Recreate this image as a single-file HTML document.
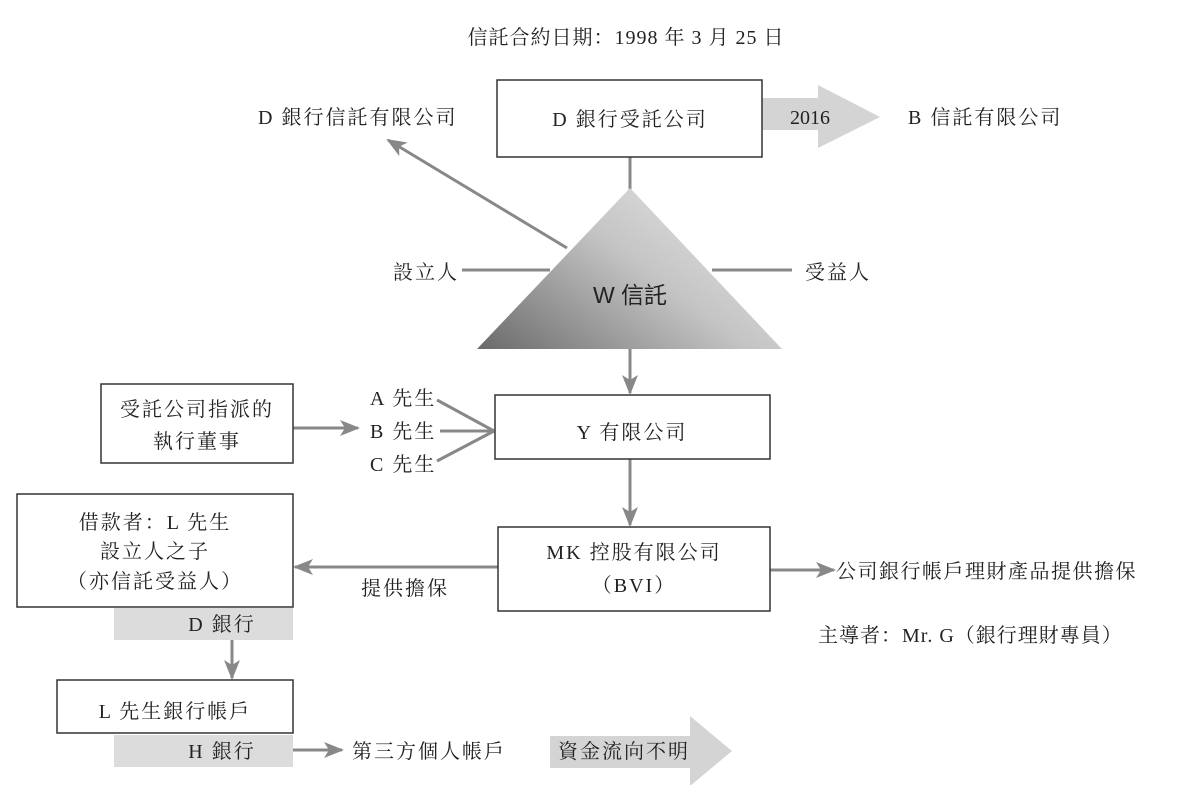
<!DOCTYPE html>
<html><head><meta charset="utf-8"><style>
body{margin:0;background:#fff}
svg text{font-family:"Liberation Serif","Noto Serif CJK SC",serif;font-size:20px;letter-spacing:2px;fill:#222}
</style></head><body>
<svg width="1178" height="785" xmlns="http://www.w3.org/2000/svg">
<defs>
<linearGradient id="g" x1="0" y1="1" x2="1" y2="0.3">
<stop offset="0" stop-color="#6a6a6a"/><stop offset="0.6" stop-color="#c4c4c4"/><stop offset="1" stop-color="#e2e2e2"/>
</linearGradient>
<marker id="b" markerWidth="20" markerHeight="16" refX="18" refY="8" orient="auto" markerUnits="userSpaceOnUse"><path d="M0,0 L20,8 L0,16 L5,8z" fill="#888"/></marker>
</defs>
<g stroke="#888" stroke-width="3" fill="none">
<line x1="630" y1="157" x2="630" y2="190"/>
<line x1="567" y1="248" x2="388" y2="140" marker-end="url(#b)"/>
<line x1="462" y1="270" x2="550" y2="270"/>
<line x1="712" y1="270" x2="792" y2="270"/>
<line x1="630" y1="349" x2="630" y2="393" marker-end="url(#b)"/>
<line x1="293" y1="428" x2="358" y2="428" marker-end="url(#b)"/>
<line x1="437" y1="400" x2="494" y2="431"/>
<line x1="440" y1="431" x2="494" y2="431"/>
<line x1="437" y1="461" x2="494" y2="431"/>
<line x1="630" y1="459" x2="630" y2="525" marker-end="url(#b)"/>
<line x1="498" y1="567" x2="295" y2="567" marker-end="url(#b)"/>
<line x1="770" y1="570" x2="834" y2="570" marker-end="url(#b)"/>
<line x1="232" y1="640" x2="232" y2="678" marker-end="url(#b)"/>
<line x1="293" y1="750" x2="342" y2="750" marker-end="url(#b)"/>
</g>
<polygon points="630,188 782,349 477,349" fill="url(#g)"/>
<path d="M762,98 H818 V85 L880,117 L818,148 V130 H762z" fill="#d4d4d4"/>
<path d="M550,736 H690 V716 L732,751 L690,786 V768 H550z" fill="#d4d4d4"/>
<rect x="114" y="608" width="179" height="32" fill="#dcdcdc"/>
<rect x="114" y="735" width="179" height="32" fill="#dcdcdc"/>
<g fill="#fff" stroke="#333" stroke-width="1.5">
<rect x="497" y="80" width="265" height="77"/>
<rect x="495" y="395" width="275" height="64"/>
<rect x="101" y="384" width="192" height="79"/>
<rect x="498" y="527" width="272" height="84"/>
<rect x="17" y="494" width="276" height="113"/>
<rect x="57" y="680" width="236" height="53"/>
</g>
<text x="626" y="44" text-anchor="middle" style="letter-spacing:1px">信託合約日期：1998 年 3 月 25 日</text>
<text x="630" y="126" text-anchor="middle">D 銀行受託公司</text>
<text x="810" y="124" text-anchor="middle" style="letter-spacing:0">2016</text>
<text x="908" y="124">B 信託有限公司</text>
<text x="258" y="124">D 銀行信託有限公司</text>
<text x="393" y="279">設立人</text>
<text x="805" y="279">受益人</text>
<text x="630" y="303" text-anchor="middle" style="font-family:'Liberation Sans','Noto Sans CJK SC',sans-serif;font-size:23px;letter-spacing:0">W 信託</text>
<text x="632" y="439" text-anchor="middle">Y 有限公司</text>
<text x="197" y="416" text-anchor="middle">受託公司指派的</text>
<text x="197" y="448" text-anchor="middle">執行董事</text>
<text x="370" y="405">A 先生</text>
<text x="370" y="438">B 先生</text>
<text x="370" y="471">C 先生</text>
<text x="634" y="559" text-anchor="middle">MK 控股有限公司</text>
<text x="634" y="592" text-anchor="middle">（BVI）</text>
<text x="405" y="595" text-anchor="middle">提供擔保</text>
<text x="836" y="578" style="letter-spacing:1.5px">公司銀行帳戶理財產品提供擔保</text>
<text x="818" y="642" style="letter-spacing:1px">主導者：Mr. G（銀行理財專員）</text>
<text x="155" y="529" text-anchor="middle">借款者：L 先生</text>
<text x="155" y="558" text-anchor="middle">設立人之子</text>
<text x="155" y="588" text-anchor="middle">（亦信託受益人）</text>
<text x="222" y="631" text-anchor="middle">D 銀行</text>
<text x="175" y="718" text-anchor="middle">L 先生銀行帳戶</text>
<text x="222" y="758" text-anchor="middle">H 銀行</text>
<text x="352" y="758">第三方個人帳戶</text>
<text x="558" y="758">資金流向不明</text>
</svg>
</body></html>
